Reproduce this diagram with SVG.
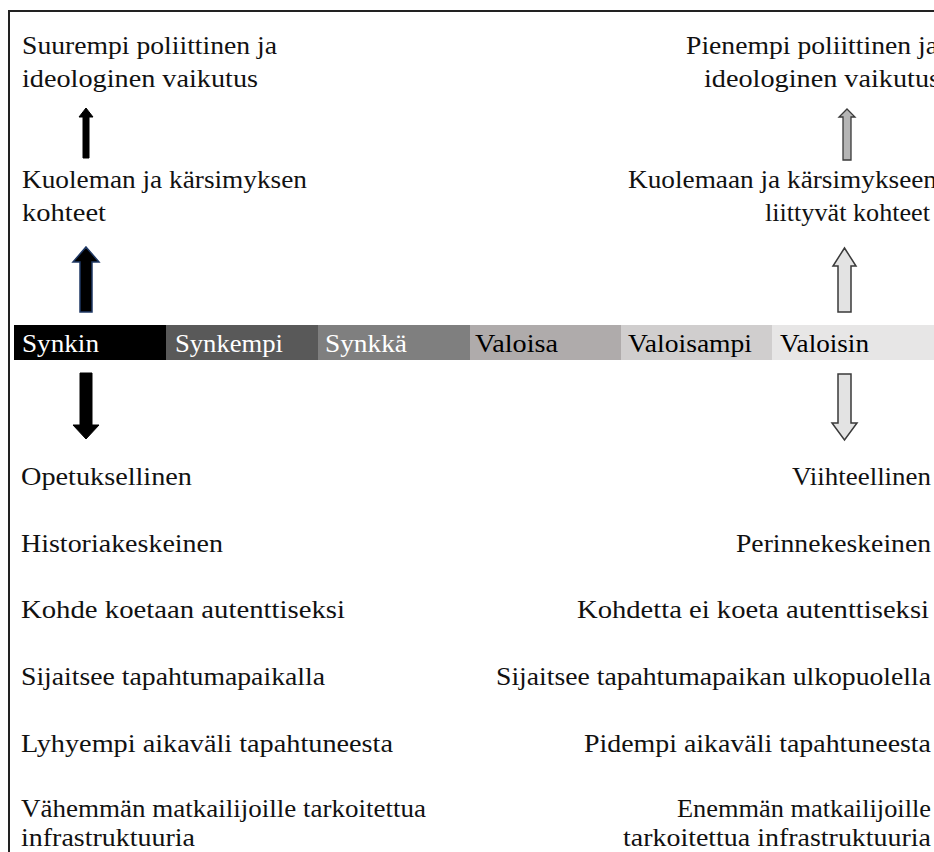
<svg xmlns="http://www.w3.org/2000/svg" width="934" height="852" viewBox="0 0 934 852" font-family="'Liberation Serif', 'DejaVu Serif', serif">
<style>
text{font-family:'Liberation Serif','DejaVu Serif',serif;font-size:25px;fill:#111;}
.bt{font-size:25px;}
.w{fill:#fff;}
.k{fill:#000;}
.frame{fill:none;stroke:#222;stroke-width:2;}
.solid{fill:#000;stroke:#000;stroke-width:1;}
.navy{fill:#000;stroke:#1f3864;stroke-width:1.5;}
.hollow{fill:#e3e3e3;stroke:#3a3a3a;stroke-width:1.5;}
.hollowg{fill:#b5b5b5;stroke:#3a3a3a;stroke-width:1.3;}
</style>
<rect x="0" y="0" width="934" height="852" fill="#fff"/>
<path class="frame" d="M9,852 V11 H934"/>

<g id="scale-bar">
  <rect x="14" y="325" width="152" height="35" fill="#000"/>
  <rect x="166" y="325" width="152" height="35" fill="#595959"/>
  <rect x="318" y="325" width="152" height="35" fill="#7f7f7f"/>
  <rect x="470" y="325" width="151" height="35" fill="#afabab"/>
  <rect x="621" y="325" width="151" height="35" fill="#d0cece"/>
  <rect x="772" y="325" width="162" height="35" fill="#e7e6e6"/>
  <text class="bt w" x="22" y="352" textLength="77" lengthAdjust="spacingAndGlyphs">Synkin</text>
  <text class="bt w" x="175" y="352" textLength="108" lengthAdjust="spacingAndGlyphs">Synkempi</text>
  <text class="bt w" x="325" y="352" textLength="82" lengthAdjust="spacingAndGlyphs">Synkkä</text>
  <text class="bt k" x="475" y="352" textLength="83" lengthAdjust="spacingAndGlyphs">Valoisa</text>
  <text class="bt k" x="628" y="352" textLength="124" lengthAdjust="spacingAndGlyphs">Valoisampi</text>
  <text class="bt k" x="780" y="352" textLength="89" lengthAdjust="spacingAndGlyphs">Valoisin</text>
</g>

<g id="left-influence">
  <text x="22" y="54" textLength="255" lengthAdjust="spacingAndGlyphs">Suurempi poliittinen ja</text>
  <text x="22" y="87" textLength="236" lengthAdjust="spacingAndGlyphs">ideologinen vaikutus</text>
</g>
<g id="right-influence">
  <text x="686" y="54" textLength="252" lengthAdjust="spacingAndGlyphs">Pienempi poliittinen ja</text>
  <text x="704" y="87" textLength="236" lengthAdjust="spacingAndGlyphs">ideologinen vaikutus</text>
</g>
<g id="left-sites">
  <text x="22" y="188" textLength="285" lengthAdjust="spacingAndGlyphs">Kuoleman ja kärsimyksen</text>
  <text x="22" y="221" textLength="84" lengthAdjust="spacingAndGlyphs">kohteet</text>
</g>
<g id="right-sites">
  <text x="628" y="188" textLength="309" lengthAdjust="spacingAndGlyphs">Kuolemaan ja kärsimykseen</text>
  <text x="765" y="221" textLength="165" lengthAdjust="spacingAndGlyphs">liittyvät kohteet</text>
</g>

<g id="left-list">
  <text x="21" y="485" textLength="171" lengthAdjust="spacingAndGlyphs">Opetuksellinen</text>
  <text x="21" y="552" textLength="202" lengthAdjust="spacingAndGlyphs">Historiakeskeinen</text>
  <text x="21" y="618" textLength="324" lengthAdjust="spacingAndGlyphs">Kohde koetaan autenttiseksi</text>
  <text x="21" y="685" textLength="304" lengthAdjust="spacingAndGlyphs">Sijaitsee tapahtumapaikalla</text>
  <text x="21" y="752" textLength="372" lengthAdjust="spacingAndGlyphs">Lyhyempi aikaväli tapahtuneesta</text>
  <text x="21" y="817" textLength="405" lengthAdjust="spacingAndGlyphs">Vähemmän matkailijoille tarkoitettua</text>
  <text x="21" y="846" textLength="174" lengthAdjust="spacingAndGlyphs">infrastruktuuria</text>
</g>
<g id="right-list">
  <text x="792" y="485" textLength="139" lengthAdjust="spacingAndGlyphs">Viihteellinen</text>
  <text x="736" y="552" textLength="195" lengthAdjust="spacingAndGlyphs">Perinnekeskeinen</text>
  <text x="577" y="618" textLength="352" lengthAdjust="spacingAndGlyphs">Kohdetta ei koeta autenttiseksi</text>
  <text x="496" y="685" textLength="435" lengthAdjust="spacingAndGlyphs">Sijaitsee tapahtumapaikan ulkopuolella</text>
  <text x="584" y="752" textLength="347" lengthAdjust="spacingAndGlyphs">Pidempi aikaväli tapahtuneesta</text>
  <text x="677" y="817" textLength="254" lengthAdjust="spacingAndGlyphs">Enemmän matkailijoille</text>
  <text x="623" y="846" textLength="308" lengthAdjust="spacingAndGlyphs">tarkoitettua infrastruktuuria</text>
</g>

<g id="connectors">
  <polygon class="solid" points="86,108 93,117 89,117 89,158 83,158 83,117 79,117"/>
  <polygon class="navy" points="86,247 99,262 92,262 92,312 80,312 80,262 73,262"/>
  <polygon class="solid" points="80,373 92,373 92,425 99,425 86,439 73,425 80,425"/>
  <polygon class="hollowg" points="847,109 855,117 851,117 851,160 843,160 843,117 839,117"/>
  <polygon class="hollow" points="844.5,248 856,266 851,266 851,312 838,312 838,266 833,266"/>
  <polygon class="hollow" points="838,374 851,374 851,423 857,423 844.5,440 832,423 838,423"/>
</g>
</svg>
